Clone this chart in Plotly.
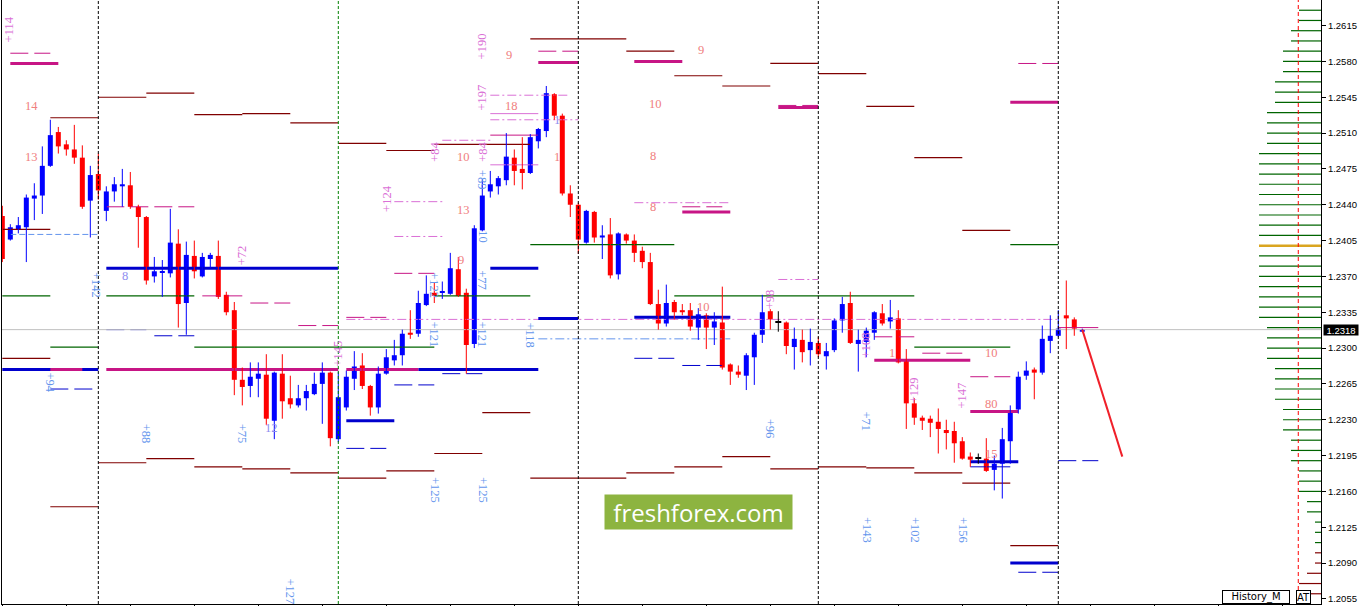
import plotly.graph_objects as go

# ---------------- candle data (H4 bars) ----------------
opens = [1.2429,1.2406,1.2416,1.2418,1.2446,1.2449,1.2478,1.2511,1.2499,1.2494,
1.2486,1.2444,1.2470,1.2434,1.2453,1.2458,1.2459,1.2438,1.2428,1.2370,
1.2374,1.2373,1.2402,1.2344,1.2390,1.2370,1.2387,1.2390,1.2352,1.2337,
1.2269,1.2263,1.2270,1.2274,1.2229,1.2275,1.2251,1.2244,1.2251,1.2255,
1.2265,1.2276,1.2211,1.2242,1.2270,1.2283,1.2263,1.2242,1.2275,1.2288,
1.2293,1.2315,1.2314,1.2342,1.2354,1.2354,1.2353,1.2377,1.2354,1.2304,
1.2415,1.2453,1.2458,1.2464,1.2486,1.2475,1.2471,1.2502,1.2512,1.2548,
1.2527,1.2451,1.2440,1.2403,1.2433,1.2408,1.2411,1.2372,1.2411,1.2405,
1.2395,1.2384,1.2343,1.2324,1.2345,1.2337,1.2337,1.2320,1.2332,1.2320,
1.2325,1.2284,1.2277,1.2273,1.2291,1.2313,1.2336,1.2325,1.2325,1.2301,
1.2308,1.2298,1.2305,1.2292,1.2298,1.2327,1.2344,1.2304,1.2306,1.2315,
1.2334,1.2326,1.2329,1.2288,1.2246,1.2232,1.2231,1.2228,1.2220,1.2219,
1.2209,1.2194,1.2192,1.2192,1.2181,1.2187,1.2209,1.2240,1.2273,1.2279,
1.2276,1.2307,1.2312,1.2332,1.2328,1.2316]
highs = [1.2439,1.2421,1.2428,1.2450,1.2461,1.2497,1.2523,1.2516,1.2503,1.2518,
1.2498,1.2478,1.2490,1.2458,1.2467,1.2475,1.2472,1.2440,1.2429,1.2389,
1.2386,1.2436,1.2416,1.2404,1.2405,1.2393,1.2393,1.2405,1.2355,1.2345,
1.2281,1.2286,1.2286,1.2294,1.2277,1.2294,1.2273,1.2264,1.2264,1.2276,
1.2286,1.2277,1.2277,1.2278,1.2297,1.2295,1.2264,1.2282,1.2299,1.2308,
1.2318,1.2337,1.2356,1.2371,1.2364,1.2365,1.2393,1.2389,1.2358,1.2420,
1.2465,1.2473,1.2468,1.2510,1.2494,1.2506,1.2509,1.2515,1.2556,1.2549,
1.2529,1.2459,1.2442,1.2435,1.2434,1.2420,1.2427,1.2413,1.2412,1.2411,
1.2399,1.2393,1.2357,1.2362,1.2347,1.2343,1.2344,1.2339,1.2334,1.2335,
1.2360,1.2285,1.2283,1.2295,1.2315,1.2352,1.2338,1.2336,1.2326,1.2320,
1.2318,1.2319,1.2311,1.2305,1.2329,1.2350,1.2355,1.2318,1.2320,1.2336,
1.2343,1.2347,1.2337,1.2299,1.2251,1.2234,1.2234,1.2241,1.2230,1.2228,
1.2213,1.2198,1.2197,1.2212,1.2195,1.2222,1.2244,1.2277,1.2287,1.2281,
1.2322,1.2332,1.2337,1.2366,1.2330,1.2319]
lows = [1.2384,1.2405,1.2412,1.2384,1.2425,1.2431,1.2477,1.2490,1.2488,1.2480,
1.2436,1.2408,1.2445,1.2424,1.2443,1.2438,1.2436,1.2398,1.2362,1.2364,
1.2350,1.2369,1.2320,1.2313,1.2368,1.2369,1.2378,1.2348,1.2332,1.2254,
1.2244,1.2252,1.2252,1.2225,1.2211,1.2231,1.2241,1.2242,1.2239,1.2254,
1.2226,1.2204,1.2208,1.2239,1.2259,1.2260,1.2234,1.2236,1.2274,1.2283,
1.2283,1.2309,1.2311,1.2341,1.2344,1.2348,1.2352,1.2350,1.2275,1.2300,
1.2414,1.2447,1.2450,1.2459,1.2459,1.2455,1.2470,1.2495,1.2506,1.2523,
1.2449,1.2428,1.2392,1.2402,1.2403,1.2387,1.2368,1.2367,1.2402,1.2384,
1.2378,1.2342,1.2318,1.2321,1.2328,1.2332,1.2317,1.2308,1.2299,1.2303,
1.2279,1.2264,1.2271,1.2259,1.2264,1.2305,1.2318,1.2316,1.2294,1.2279,
1.2286,1.2283,1.2291,1.2279,1.2296,1.2315,1.2304,1.2277,1.2291,1.2308,
1.2322,1.2319,1.2285,1.2221,1.2225,1.2220,1.2213,1.2197,1.2201,1.2188,
1.2191,1.2184,1.2187,1.2179,1.2161,1.2153,1.2187,1.2236,1.2269,1.2250,
1.2274,1.2295,1.2311,1.2299,1.2312,1.2316]
closes = [1.2387,1.2418,1.2420,1.2447,1.2449,1.2478,1.2508,1.2497,1.2494,1.2486,
1.2438,1.2469,1.2454,1.2453,1.2460,1.2460,1.2438,1.2428,1.2366,1.2375,
1.2375,1.2403,1.2343,1.2391,1.2375,1.2389,1.2391,1.2350,1.2335,1.2269,
1.2262,1.2272,1.2275,1.2231,1.2276,1.2248,1.2245,1.2251,1.2258,1.2265,
1.2276,1.2212,1.2252,1.2272,1.2282,1.2263,1.2242,1.2275,1.2291,1.2293,
1.2314,1.2313,1.2344,1.2353,1.2351,1.2355,1.2378,1.2351,1.2303,1.2417,
1.2449,1.2460,1.2466,1.2487,1.2473,1.2471,1.2506,1.2514,1.2549,1.2527,
1.2451,1.2440,1.2406,1.2434,1.2408,1.2410,1.2371,1.2412,1.2405,1.2393,
1.2384,1.2343,1.2324,1.2344,1.2335,1.2335,1.2321,1.2333,1.2320,1.2326,
1.2281,1.2277,1.2274,1.2293,1.2313,1.2335,1.2328,1.2325,1.2302,1.2309,
1.2296,1.2306,1.2294,1.2297,1.2327,1.2343,1.2305,1.2308,1.2317,1.2335,
1.2324,1.2330,1.2286,1.2246,1.2232,1.2229,1.2227,1.2221,1.2217,1.2207,
1.2192,1.2191,1.2192,1.2180,1.2187,1.2211,1.2239,1.2272,1.2278,1.2276,
1.2309,1.2312,1.2319,1.2329,1.2319,1.2318]

last_price = 1.2318
week_starts = [12, 72, 102, 132]
month_start = 42
future_marker = 162
projection_bars = [135, 140]
projection_prices = [1.2318, 1.2194]

# daily range levels (one value per 6-bar day)
day_len = 6
upper_levels = [1.2416,1.2525,1.2545,1.2549,1.2528,1.2529,1.2520,1.2500,1.2493,1.2499,1.2499,
                1.2602,1.2602,1.2590,1.2566,1.2556,1.2578,1.2568,1.2536,1.2486,1.2415,None]
lower_levels = [1.2290,1.2145,1.2188,1.2192,1.2184,1.2182,1.2178,1.2173,1.2180,1.2197,1.2237,
                1.2173,1.2173,1.2178,1.2184,1.2194,1.2182,1.2184,1.2183,1.2178,1.2168,1.2107]

# other level segments: (start bar, end bar, price)
green_segs = [(0,6,1.2351),(6,12,1.2301),(13,24,1.2351),(24,54,1.2301),(54,66,1.2351),
              (66,84,1.2401),(84,114,1.2351),(114,126,1.2301),(126,132,1.2401)]
blue_thick = [(0,12,1.2279),(13,42,1.2378),(52,67,1.2279),(61,67,1.2378),(67,72,1.2329),
              (79,91,1.2330),(43,49,1.2229),(121,127,1.2189),(126,132,1.2090)]
magenta_thick = [(6,10,1.2279),(13,42,1.2279),(43,52,1.2279),(1,7,1.2578),(67,72,1.2579),
                 (79,85,1.2580),(97,102,1.2535),(126,132,1.2540),(85,91,1.2433),
                 (109,121,1.2288),(121,127,1.2238)]
magenta_dash = [(1,6,1.2588),(13,24,1.2438),(25,30,1.2351),(31,36,1.2344),(37,42,1.2322),
                (43,48,1.2330),(49,54,1.2373),(67,72,1.2590),(97,102,1.2537),(85,90,1.2438),
                (109,114,1.2311),(115,120,1.2295),(121,126,1.2272),(127,132,1.2578)]
magenta_thin = [(132,137,1.2320),(61,67,1.2508)]
orchid_thin = [(61,67,1.2529),(61,67,1.2479)]
blue_dash = [(6,12,1.2260),(13,18,1.2318),(19,24,1.2312),(49,54,1.2264),(55,60,1.2275),
             (43,48,1.2202),(79,84,1.2290),(85,90,1.2283),(132,137,1.2190),(127,132,1.2081)]
blue_thin = [(121,126,1.2184)]
orchid_dashdot = [(61,71,1.2547),(61,72,1.2523),(55,61,1.2503),(49,55,1.2443),(49,55,1.2409),
                  (43,132,1.2328),(79,91,1.2442),(97,102,1.2367)]
cornflower_dashdot = [(67,91,1.2309)]
cornflower_dash = [(1,12,1.2411)]

# right-side level profile
profile_levels = [1.2630,1.2620,1.2610,1.2600,1.2590,1.2580,1.2570,1.2560,1.2550,1.2540,
                  1.2530,1.2520,1.2510,1.2500,1.2490,1.2480,1.2470,1.2460,1.2450,1.2440,
                  1.2430,1.2420,1.2410,1.2400,1.2390,1.2380,1.2370,1.2360,1.2350,1.2340,
                  1.2330,1.2320,1.2310,1.2300,1.2290,1.2280,1.2270,1.2260,1.2250,1.2240,
                  1.2230,1.2220,1.2210,1.2200,1.2190,1.2180,1.2170,1.2160,1.2150,1.2140,
                  1.2130,1.2120,1.2110,1.2100,1.2090,1.2080,1.2070,1.2060]
profile_counts = [3,3,4,4,5,5,5,6,6,6,7,7,7,7,8,8,8,8,8,8,8,8,8,8,8,8,8,8,8,8,8,
                  7,7,7,7,6,6,6,6,5,5,5,4,4,4,3,3,3,2,2,1,1,1,1,1,2,3,3]
key_level = 1.2400

# text labels
orchid_labels = ["+114","+190","+197","+84","+84","+124","+72","+145","+98","+108","+129","+147"]
orchid_x = [0.8,60,60,54,60,48,30,42,96,108,114,120]
orchid_y = [1.2611,1.2595,1.2545,1.2492,1.2492,1.2446,1.2391,1.2295,1.2348,1.2303,1.2259,1.2254]
blue_labels = ["+142","+94","+88","+75","+127","+125","+125","+121","+121","+77","10","+118",
               "+122","+89","+96","+71","+143","+102","+156"]
blue_x = [11.8,6,18,30,36,54,60,54,60,60,60,66,54,60,96,108,108,114,120]
blue_y = [1.2362,1.2266,1.2216,1.2216,1.2062,1.2161,1.2161,1.2313,1.2313,1.2366,1.2409,1.2313,
          1.2361,1.2464,1.2221,1.2228,1.2122,1.2122,1.2122]
salmon_labels = ["14","13","9","18","10","13","9","1","9","10","8","8","10","1","10","80","15"]
salmon_x = [3.7,3.7,63.3,63.7,57.7,57.7,57.3,69.3,87.3,81.7,81.3,81.3,87.7,111.2,123.7,123.7,123.7]
salmon_y = [1.2536,1.2487,1.2586,1.2536,1.2487,1.2435,1.2386,1.2487,1.2591,1.2538,1.2488,1.2438,
            1.2340,1.2295,1.2295,1.2245,1.2197]
lavender_labels = ["8","12","1"]
lavender_x = [15.3,33.7,69.3]
lavender_y = [1.2370,1.2222,1.2523]

y_ticks = [1.2055,1.2090,1.2125,1.2160,1.2195,1.2230,1.2265,1.2300,1.2335,1.2370,
           1.2405,1.2440,1.2475,1.2510,1.2545,1.2580,1.2615]

X_MIN, X_MAX = -0.04, 164.84
Y_MIN, Y_MAX = 1.2050, 1.2640

fig = go.Figure()


def add_segments(segs, color, width, dash="solid"):
    xs, ys = [], []
    for x0, x1, p in segs:
        xs += [x0, x1, None]
        ys += [p, p, None]
    fig.add_trace(go.Scatter(x=xs, y=ys, mode="lines", hoverinfo="skip",
                             line=dict(color=color, width=width, dash=dash)))


# daily range lines
day_upper = [(k * day_len, (k + 1) * day_len, p) for k, p in enumerate(upper_levels) if p is not None]
day_lower = [(k * day_len, (k + 1) * day_len, p) for k, p in enumerate(lower_levels) if p is not None]
add_segments(day_upper, "#800000", 1.2)
add_segments(day_lower, "#800000", 1.2)
add_segments(green_segs, "#006400", 1.2)
add_segments(orchid_dashdot, "#DA70D6", 1, "9px,3px,2px,3px")
add_segments(cornflower_dashdot, "#6495ED", 1, "9px,3px,2px,3px")
add_segments(cornflower_dash, "#6495ED", 1, "6px,3px")
add_segments(magenta_dash, "#C71585", 1, "18px,6px")
add_segments(magenta_thin, "#C71585", 1)
add_segments(orchid_thin, "#DA70D6", 1)
add_segments(blue_dash, "#0000CD", 1, "18px,6px")
add_segments(blue_thin, "#0000CD", 1)
add_segments(blue_thick, "#0000CD", 3)
add_segments(magenta_thick, "#C71585", 3)

# current price line
add_segments([(X_MIN, X_MAX, last_price)], "#C0C0C0", 1)

# profile on the right
for lvl, cnt in zip(profile_levels, profile_counts):
    if abs(lvl - key_level) < 1e-9:
        col, w = "#DAA520", 2.5
    elif lvl > 1.2105:
        col, w = "#006400", 1.2
    else:
        col, w = "#800000", 1.2
    fig.add_trace(go.Scatter(x=[X_MAX - cnt + 0.25, X_MAX], y=[lvl, lvl], mode="lines",
                             hoverinfo="skip", line=dict(color=col, width=w)))

# candles
n = len(opens)
groups = {"blue": [], "red": [], "black": []}
for i in range(n):
    if closes[i] > opens[i]:
        groups["blue"].append(i)
    elif closes[i] < opens[i]:
        groups["red"].append(i)
    else:
        groups["black"].append(i)

for col, ids in groups.items():
    wx, wy = [], []
    for i in ids:
        wx += [i, i, None]
        wy += [lows[i], highs[i], None]
    fig.add_trace(go.Scatter(x=wx, y=wy, mode="lines", hoverinfo="skip",
                             line=dict(color=col, width=1)))
    bases = [min(opens[i], closes[i]) for i in ids]
    heights = [max(abs(closes[i] - opens[i]), 0.00011) for i in ids]
    fig.add_trace(go.Bar(x=ids, y=heights, base=bases, width=0.625 if col != "black" else 0.75,
                         marker=dict(color=col, line=dict(width=0)), hoverinfo="skip"))

# projection arrow line
fig.add_trace(go.Scatter(x=projection_bars, y=projection_prices, mode="lines", hoverinfo="skip",
                         line=dict(color="#F0202A", width=2)))

# vertical separators
shapes = []
for b in week_starts:
    shapes.append(dict(type="line", xref="x", yref="paper", x0=b, x1=b, y0=0, y1=1,
                       line=dict(color="black", width=1, dash="3px,2px")))
shapes.append(dict(type="line", xref="x", yref="paper", x0=month_start, x1=month_start, y0=0, y1=1,
                   line=dict(color="#008000", width=1, dash="3px,2px")))
shapes.append(dict(type="line", xref="x", yref="paper", x0=future_marker, x1=future_marker, y0=0, y1=1,
                   line=dict(color="#FF0000", width=1, dash="4px,3px")))

ann = []
for t, x, y in zip(orchid_labels, orchid_x, orchid_y):
    ann.append(dict(x=x, y=y, text=t, showarrow=False, textangle=-90,
                    font=dict(family="Liberation Serif", size=12.5, color="#DA70D6")))
for t, x, y in zip(blue_labels, blue_x, blue_y):
    ann.append(dict(x=x, y=y, text=t, showarrow=False, textangle=90,
                    font=dict(family="Liberation Serif", size=12.5, color="#6495ED")))
for t, x, y in zip(salmon_labels, salmon_x, salmon_y):
    ann.append(dict(x=x, y=y, text=t, showarrow=False,
                    font=dict(family="Liberation Serif", size=12.5, color="#F08080")))
for t, x, y in zip(lavender_labels, lavender_x, lavender_y):
    ann.append(dict(x=x, y=y, text=t, showarrow=False,
                    font=dict(family="Liberation Serif", size=12.5, color="#8E8EF0")))

# watermark
ann.append(dict(xref="paper", yref="paper", x=0.528, y=0.1523, xanchor="center", yanchor="middle",
                text="freshforex.com", showarrow=False,
                font=dict(family="Open Sans", size=24, color="white"), bgcolor="#8DB440",
                width=181, height=28, borderpad=3))
# current price label
ann.append(dict(xref="paper", yref="y", x=1.0150, y=last_price, xanchor="center", yanchor="middle",
                text="1.2318", showarrow=False,
                font=dict(family="Liberation Sans", size=9.5, color="white"), bgcolor="black",
                width=34, height=10, borderpad=0))
# buttons
ann.append(dict(xref="paper", yref="paper", x=0.9507, y=0.0124, xanchor="center", yanchor="middle",
                text="History_M", showarrow=False,
                font=dict(family="DejaVu Sans", size=10, color="black"), bgcolor="white",
                bordercolor="black", borderwidth=1, width=66, height=12, borderpad=0))
ann.append(dict(xref="paper", yref="paper", x=0.9864, y=0.0124, xanchor="center", yanchor="middle",
                text="AT", showarrow=False,
                font=dict(family="DejaVu Sans", size=10, color="black"), bgcolor="white",
                bordercolor="black", borderwidth=1, width=13, height=12, borderpad=0))

fig.update_layout(
    width=1363, height=606,
    margin=dict(l=2, r=42, t=0, b=2),
    paper_bgcolor="white", plot_bgcolor="white",
    showlegend=False, barmode="overlay", hovermode=False,
    shapes=shapes, annotations=ann,
    xaxis=dict(range=[X_MIN, X_MAX], showgrid=False, zeroline=False, showline=True,
               linecolor="black", linewidth=1, ticks="outside", ticklen=3, tickcolor="black",
               tickvals=list(range(0, 165, 8)), showticklabels=False, fixedrange=True),
    yaxis=dict(range=[Y_MIN, Y_MAX], side="right", showgrid=False, zeroline=False,
               showline=True, mirror=True, linecolor="black", linewidth=1,
               ticks="outside", ticklen=4, tickcolor="black", tickvals=y_ticks,
               tickformat=".4f", tickfont=dict(family="Liberation Sans", size=9.5, color="black"),
               fixedrange=True),
)

fig.write_html("out.html", config={"displayModeBar": False},
               post_script="document.body.style.margin='0';document.body.style.overflow='hidden';")
